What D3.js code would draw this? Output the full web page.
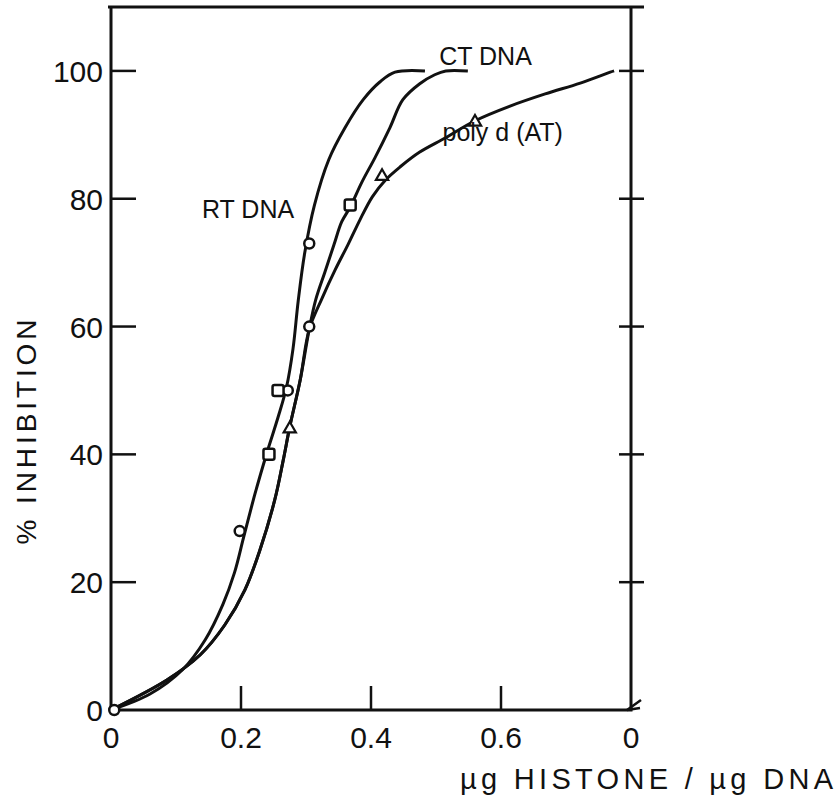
<!DOCTYPE html>
<html lang="en">
<head>
<meta charset="UTF-8">
<script src="https://d3js.org/d3.v7.min.js"></script>
<style>
    body { margin: 0; background: #fff; }
    text { font-family: "Liberation Sans", "DejaVu Sans", sans-serif; fill: #111; }
</style>
<title>Histone inhibition</title>
</head>
<body>
<div class="fig"></div>
<script>
// ticks
const xTicks = [0, 0.2, 0.4, 0.6, 0.8];
const xTickLabels = ["0", "0.2", "0.4", "0.6", "0"];
const yTicks = [0, 20, 40, 60, 80, 100];
const yTickLabels = ["0", "20", "40", "60", "80", "100"];

// curves: [ug histone / ug DNA, % inhibition]
const rtCurve = [[0, 0], [0.060, 2.5], [0.110, 6.3], [0.145, 11.0], [0.172, 16.5], [0.190, 21.5],
    [0.204, 27.0], [0.222, 34.0], [0.240, 40.3], [0.257, 45.8], [0.270, 50.5], [0.280, 56.5],
    [0.288, 64.0], [0.298, 71.5], [0.313, 79.0], [0.335, 86.1], [0.360, 91.1], [0.388, 95.5],
    [0.414, 98.3], [0.437, 99.8], [0.483, 100]];
const ctCurve = [[0, 0], [0.086, 4.7], [0.137, 8.6], [0.175, 13.3], [0.206, 18.8], [0.229, 25.0],
    [0.252, 32.9], [0.265, 39.1], [0.275, 44.3], [0.291, 51.6], [0.305, 59.6], [0.315, 64.2],
    [0.329, 68.5], [0.343, 72.8], [0.355, 76.4], [0.368, 78.7], [0.386, 82.6], [0.406, 86.4],
    [0.429, 91.1], [0.449, 95.5], [0.475, 98.0], [0.498, 99.4], [0.515, 100], [0.549, 100]];
const polyCurve = [[0, 0], [0.086, 4.7], [0.137, 8.6], [0.175, 13.3], [0.206, 18.8], [0.229, 25.0],
    [0.252, 32.9], [0.265, 39.1], [0.275, 44.3], [0.291, 51.6], [0.305, 59.6], [0.325, 64.5],
    [0.345, 68.9], [0.365, 72.9], [0.383, 76.7], [0.402, 80.3], [0.422, 82.9], [0.445, 85.0],
    [0.475, 87.3], [0.514, 89.5], [0.560, 92.2], [0.614, 94.5], [0.668, 96.4], [0.722, 98.1],
    [0.768, 99.8], [0.774, 100]];

// measured points
const circlePts = [[0.005, 0], [0.198, 28], [0.272, 50], [0.305, 60], [0.305, 73]];
const squarePts = [[0.243, 40], [0.257, 50], [0.368, 79]];
const trianglePts = [[0.275, 44], [0.417, 83.5], [0.560, 92]];

const width = 838, height = 804;

const svg = d3.select(".fig").append("svg")
    .attr("width", width)
    .attr("height", height);

const x = d3.scaleLinear().domain([0, 0.8]).range([111, 631]);
const y = d3.scaleLinear().domain([0, 110]).range([710, 7]);

const ink = "#111";

// frame
svg.append("path")
    .attr("d", `M${x(0)},${y(110)}V${y(0)}H${x(0.8)}V${y(110)}`)
    .attr("fill", "none").attr("stroke", ink).attr("stroke-width", 3);
svg.append("line")
    .attr("x1", x(0) - 3).attr("x2", x(0.8) + 13)
    .attr("y1", y(110)).attr("y2", y(110))
    .attr("stroke", ink).attr("stroke-width", 3);
// little break mark at the lower right corner
svg.append("path")
    .attr("d", `M${x(0.8) - 4},${y(0)}L${x(0.8) + 10},${y(0) - 10}M${x(0.8) - 4},${y(0)}L${x(0.8) + 9},${y(0) - 2}`)
    .attr("fill", "none").attr("stroke", ink).attr("stroke-width", 2.5);

// y ticks, left side inward, right side crossing
svg.selectAll(".ytl").data(yTicks.slice(1)).enter().append("line")
    .attr("x1", x(0)).attr("x2", x(0) + 25)
    .attr("y1", d => y(d)).attr("y2", d => y(d))
    .attr("stroke", ink).attr("stroke-width", 2.5);
svg.selectAll(".ytr").data(yTicks.slice(1)).enter().append("line")
    .attr("x1", x(0.8) - 12).attr("x2", x(0.8) + 13)
    .attr("y1", d => y(d)).attr("y2", d => y(d))
    .attr("stroke", ink).attr("stroke-width", 2.5);
svg.selectAll(".ylab").data(yTicks).enter().append("text")
    .attr("x", x(0) - 8)
    .attr("y", d => y(d) + 11)
    .attr("text-anchor", "end")
    .attr("font-size", 30)
    .text((d, i) => yTickLabels[i]);

// x ticks pointing up
svg.selectAll(".xt").data(xTicks.slice(1, 4)).enter().append("line")
    .attr("x1", d => x(d)).attr("x2", d => x(d))
    .attr("y1", y(0)).attr("y2", y(0) - 24)
    .attr("stroke", ink).attr("stroke-width", 2.5);
svg.selectAll(".xlab").data(xTicks).enter().append("text")
    .attr("x", d => x(d))
    .attr("y", y(0) + 38)
    .attr("text-anchor", "middle")
    .attr("font-size", 30)
    .text((d, i) => xTickLabels[i]);

// axis titles
svg.append("text")
    .attr("transform", `translate(36,${y(43.5)}) rotate(-90)`)
    .attr("text-anchor", "middle")
    .attr("font-size", 28)
    .attr("textLength", 225)
    .attr("lengthAdjust", "spacing")
    .text("% INHIBITION");
svg.append("text")
    .attr("x", 460).attr("y", 789)
    .attr("font-size", 29)
    .attr("textLength", 373)
    .attr("lengthAdjust", "spacing")
    .text("\u00b5g HISTONE / \u00b5g DNA");

// curves
const line = d3.line()
    .x(d => x(d[0]))
    .y(d => y(d[1]))
    .curve(d3.curveCatmullRom.alpha(0.5));

[rtCurve, ctCurve, polyCurve].forEach(c => {
    svg.append("path")
        .attr("d", line(c))
        .attr("fill", "none")
        .attr("stroke", ink)
        .attr("stroke-width", 3);
});

// markers
svg.selectAll(".circ").data(circlePts).enter().append("circle")
    .attr("cx", d => x(d[0])).attr("cy", d => y(d[1]))
    .attr("r", 5)
    .attr("fill", "#fff").attr("stroke", ink).attr("stroke-width", 2.5);
svg.selectAll(".sq").data(squarePts).enter().append("rect")
    .attr("x", d => x(d[0]) - 5.5).attr("y", d => y(d[1]) - 5.5)
    .attr("width", 11).attr("height", 11).attr("rx", 2)
    .attr("fill", "#fff").attr("stroke", ink).attr("stroke-width", 2.5);
const tri = d3.symbol().type(d3.symbolTriangle).size(65);
svg.selectAll(".tri").data(trianglePts).enter().append("path")
    .attr("d", tri)
    .attr("transform", d => `translate(${x(d[0])},${y(d[1])})`)
    .attr("fill", "#fff").attr("stroke", ink).attr("stroke-width", 2.2);

// curve labels
svg.append("text")
    .attr("x", x(0.14)).attr("y", y(77))
    .attr("font-size", 25)
    .text("RT DNA");
svg.append("text")
    .attr("x", x(0.505)).attr("y", y(100) - 6)
    .attr("font-size", 25)
    .text("CT DNA");
svg.append("text")
    .attr("x", x(0.51)).attr("y", y(89))
    .attr("font-size", 25)
    .text("poly d (AT)");
</script>
</body>
</html>
